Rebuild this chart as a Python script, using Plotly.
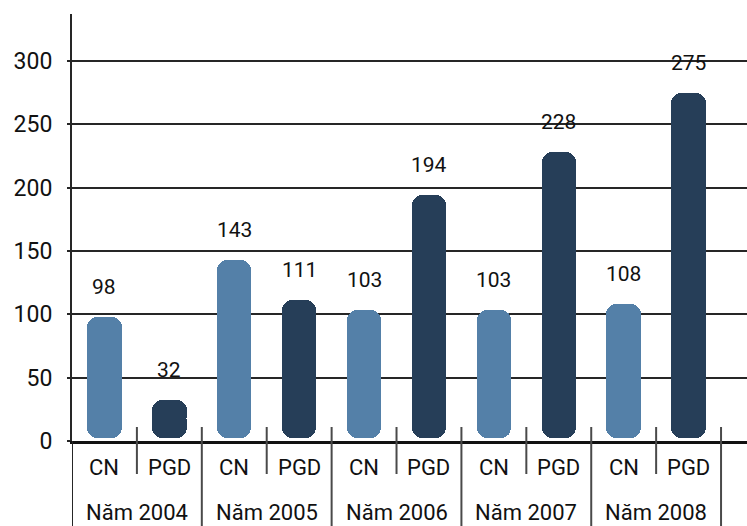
import plotly.graph_objects as go

# Data
years = ["Năm 2004", "Năm 2005", "Năm 2006", "Năm 2007", "Năm 2008"]
sub_labels = ["CN", "PGD"]
cn_values = [98, 143, 103, 103, 108]
pgd_values = [32, 111, 194, 228, 275]
y_ticks = [0, 50, 100, 150, 200, 250, 300]

# Styling
CN_COLOR = "#5480a8"
PGD_COLOR = "#263e58"
TEXT_COLOR = "#111111"
LINE_COLOR = "#262626"
SEP_COLOR = "#4a4a4a"
FONT = "Roboto, DejaVu Sans Condensed, sans-serif"
FONT_WEIGHT = 400
BAR_WIDTH = 0.53
BAR_BASE = 2.5
RADIUS = 10
OVERLAP = 9  # value units each half of a bar stops short of the opposite end

W, H = 747, 526
M_L, M_R, M_T, M_B = 72, 0, 14, 85
PLOT_H = H - M_T - M_B


def paper_y(px):
    """Convert a pixel row (from the top of the page) to paper y."""
    return (H - M_B - px) / PLOT_H


def text_font(size):
    return dict(family=FONT, size=size, color=TEXT_COLOR, weight=FONT_WEIGHT)


cn_x = [2 * i for i in range(len(years))]
pgd_x = [2 * i + 1 for i in range(len(years))]

fig = go.Figure()


def add_rounded_bars(xs, vals, color):
    # upper part: rounded top end
    fig.add_trace(go.Bar(
        x=xs, base=[BAR_BASE + OVERLAP] * len(vals),
        y=[v - BAR_BASE - OVERLAP for v in vals],
        width=BAR_WIDTH, marker=dict(color=color, line=dict(width=0), cornerradius=RADIUS),
        hoverinfo="skip", showlegend=False,
    ))
    # lower part: rounded bottom end
    fig.add_trace(go.Bar(
        x=xs, base=[v - OVERLAP for v in vals],
        y=[BAR_BASE - v + OVERLAP for v in vals],
        width=BAR_WIDTH, marker=dict(color=color, line=dict(width=0), cornerradius=RADIUS),
        hoverinfo="skip", showlegend=False,
    ))


add_rounded_bars(cn_x, cn_values, CN_COLOR)
add_rounded_bars(pgd_x, pgd_values, PGD_COLOR)

annotations = []
# value labels above bars
for xs, vals in ((cn_x, cn_values), (pgd_x, pgd_values)):
    for x, v in zip(xs, vals):
        annotations.append(dict(
            x=x, y=v, xref="x", yref="y", text=str(v), showarrow=False,
            yshift=30, yanchor="middle", font=text_font(21),
        ))

# category labels under the axis
for i, year in enumerate(years):
    for j, lab in enumerate(sub_labels):
        annotations.append(dict(
            x=2 * i + j, y=paper_y(467), xref="x", yref="paper", text=lab,
            showarrow=False, yanchor="middle", font=text_font(22),
        ))
    annotations.append(dict(
        x=2 * i + 0.5, y=paper_y(512), xref="x", yref="paper", text=year,
        showarrow=False, yanchor="middle", font=text_font(22),
    ))

shapes = []
n_cat = 2 * len(years)
# short separators between CN and PGD
for i in range(len(years)):
    xb = 2 * i + 0.5
    shapes.append(dict(type="line", xref="x", yref="paper", x0=xb, x1=xb,
                       y0=paper_y(427), y1=paper_y(474),
                       line=dict(color=SEP_COLOR, width=2)))
# long separators between years
for i in range(len(years)):
    xb = 2 * i + 1.5
    shapes.append(dict(type="line", xref="x", yref="paper", x0=xb, x1=xb,
                       y0=paper_y(427), y1=paper_y(H + 5),
                       line=dict(color=SEP_COLOR, width=2)))
# left axis continued down through the label rows
shapes.append(dict(type="line", xref="x", yref="paper", x0=-0.5, x1=-0.5,
                   y0=0, y1=paper_y(H + 5),
                   line=dict(color=LINE_COLOR, width=2)))

fig.update_layout(
    width=W, height=H,
    margin=dict(l=M_L, r=M_R, t=M_T, b=M_B),
    paper_bgcolor="white", plot_bgcolor="white",
    barmode="overlay", bargap=0,
    showlegend=False,
    annotations=annotations,
    shapes=shapes,
    xaxis=dict(
        range=[-0.5, n_cat - 0.1], showticklabels=False, showgrid=False,
        zeroline=False, showline=True, linecolor="#111111", linewidth=3,
        ticks="", fixedrange=True,
    ),
    yaxis=dict(
        range=[0, 337], tickvals=y_ticks, ticktext=[str(t) for t in y_ticks],
        showgrid=True, gridcolor=LINE_COLOR, gridwidth=1.5,
        zeroline=False, showline=True, linecolor=LINE_COLOR, linewidth=2,
        ticks="outside", ticklen=3, tickcolor=LINE_COLOR, tickwidth=1.5,
        ticklabelstandoff=10,
        tickfont=text_font(23),
        fixedrange=True,
    ),
)

fig.write_html("out.html")
